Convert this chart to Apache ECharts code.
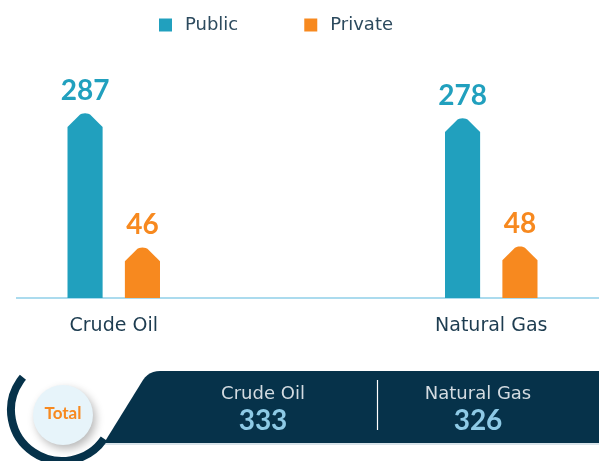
<!DOCTYPE html>
<html>
<head>
<meta charset="utf-8">
<script src="https://cdn.jsdelivr.net/npm/echarts@6/dist/echarts.min.js"></script>
<style>
html, body { margin: 0; padding: 0; background: #fff; }
#chart { width: 599px; height: 461px; }
</style>
</head>
<body>
<div id="chart"></div>
<script>
var categories = ['Crude Oil', 'Natural Gas'];
var seriesNames = ['Public', 'Private'];
var publicValues = [287, 278];
var privateValues = [46, 48];
var totalTitle = 'Total';
var totals = categories.map(function (c, i) { return publicValues[i] + privateValues[i]; });

var colors = ['#21a0be', '#f7891f'];
var navy = '#06324a';

var chart = echarts.init(document.getElementById('chart'));

// points on a quadratic curve, used for the rounded tip
function curvePts(a, c, b, n) {
    var out = [];
    for (var i = 0; i <= n; i++) {
        var t = i / n, u = 1 - t;
        out.push([u * u * a[0] + 2 * u * t * c[0] + t * t * b[0],
                  u * u * a[1] + 2 * u * t * c[1] + t * t * b[1]]);
    }
    return out;
}

function makeRender(side) {
    return function (params, api) {
        var val = api.value(1);
        var pt = api.coord([api.value(0), val]);
        var base = params.coordSys.y + params.coordSys.height;
        var band = api.size([1, 0])[0];
        var w = band * 0.093;
        var cx = pt[0] + side * band * 0.076;
        var p = pt[1];
        var x0 = cx - w / 2, x1 = cx + w / 2;
        var pts = [[x0, base], [x0, p + 14]];
        pts = pts.concat(curvePts([cx - 5, p + 1.5], [cx, p - 1], [cx + 5, p + 1.5], 6));
        pts.push([x1, p + 14], [x1, base]);
        var color = api.visual('color');
        return {
            type: 'group',
            children: [
                { type: 'polygon', shape: { points: pts }, style: { fill: color } },
                { type: 'text', style: { text: String(val), x: cx, y: p - 8, align: 'center', verticalAlign: 'bottom',
                    fill: color, font: 'bold 28px Lato' } }
            ]
        };
    };
}

function toData(arr) {
    return arr.map(function (v, i) { return [i, v]; });
}

// bottom panel shape
var panelPts = [[104, 443], [143, 380]]
    .concat(curvePts([143, 380], [149, 371], [160, 371], 6))
    .concat([[599, 371], [599, 443]]);

var option = {
    backgroundColor: '#fff',
    animation: false,
    legend: {
        left: 154,
        top: 11,
        icon: 'rect',
        itemWidth: 13,
        itemHeight: 13,
        itemGap: 66,
        data: seriesNames,
        textStyle: { color: '#2c4a5e', fontSize: 18, fontFamily: 'DejaVu Sans', padding: [0, 0, 0, 8] }
    },
    grid: { left: -75, right: -81, top: 103, bottom: 163, outerBoundsMode: 'none', containLabel: false },
    xAxis: {
        type: 'category',
        data: categories,
        axisLine: { onZero: false, lineStyle: { color: '#8fcfe8', width: 1.5 } },
        axisTick: { show: false },
        axisLabel: { color: '#1d3c50', fontSize: 19, fontFamily: 'DejaVu Sans', margin: 19 },
        splitLine: { show: false }
    },
    yAxis: {
        type: 'value',
        min: -45,
        max: 305,
        show: false,
        splitLine: { show: false }
    },
    series: [
        {
            name: seriesNames[0],
            type: 'custom',
            renderItem: makeRender(-1),
            itemStyle: { color: colors[0] },
            encode: { x: 0, y: 1 },
            data: toData(publicValues)
        },
        {
            name: seriesNames[1],
            type: 'custom',
            renderItem: makeRender(1),
            itemStyle: { color: colors[1] },
            encode: { x: 0, y: 1 },
            data: toData(privateValues)
        }
    ],
    graphic: [
        { type: 'rect', left: 0, top: 292, shape: { width: 16, height: 10 }, style: { fill: '#fff' }, z: 100 },
        { type: 'polygon', shape: { points: panelPts }, style: { fill: navy } },
        { type: 'line', shape: { x1: 104, y1: 444, x2: 599, y2: 444 }, style: { stroke: '#b3c8d4', lineWidth: 1 } },
        { type: 'arc', shape: { cx: 62, cy: 410, r: 51, startAngle: 0.6, endAngle: 3.84, clockwise: true },
            style: { stroke: navy, lineWidth: 8, fill: null } },
        { type: 'circle', shape: { cx: 63, cy: 415, r: 30 },
            style: { fill: '#e7f4fa', shadowBlur: 8, shadowColor: 'rgba(0,0,0,0.28)', shadowOffsetX: 3, shadowOffsetY: 4 } },
        { type: 'text', x: 63, y: 414, style: { text: totalTitle, align: 'center', verticalAlign: 'middle',
            fill: '#f7891f', font: 'bold 17px Lato' } },
        { type: 'text', x: 263, y: 394, style: { text: categories[0], align: 'center', verticalAlign: 'middle',
            fill: '#d3dbe1', font: '18px DejaVu Sans' } },
        { type: 'text', x: 263, y: 421, style: { text: String(totals[0]), align: 'center', verticalAlign: 'middle',
            fill: '#8ecae6', font: 'bold 28px Lato' } },
        { type: 'line', shape: { x1: 377.5, y1: 380, x2: 377.5, y2: 430 }, style: { stroke: '#ffffff', lineWidth: 1.2 } },
        { type: 'text', x: 478, y: 394, style: { text: categories[1], align: 'center', verticalAlign: 'middle',
            fill: '#d3dbe1', font: '18px DejaVu Sans' } },
        { type: 'text', x: 478, y: 421, style: { text: String(totals[1]), align: 'center', verticalAlign: 'middle',
            fill: '#8ecae6', font: 'bold 28px Lato' } }
    ]
};

chart.setOption(option);
</script>
</body>
</html>
